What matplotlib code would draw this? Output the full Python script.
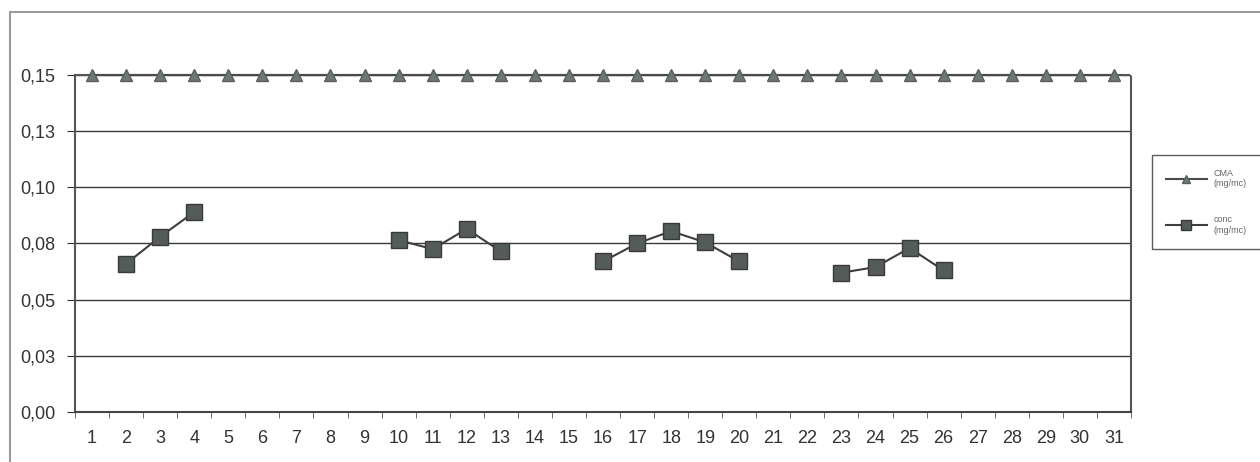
import numpy as np
import matplotlib.pyplot as plt
from matplotlib.patches import Rectangle

plt.rcParams["font.family"] = ["Liberation Sans", "DejaVu Sans"]

# Days of the month and measured values (mg/mc)
days = list(range(1, 32))
cma = [0.15] * 31
conc_days = [2, 3, 4, 10, 11, 12, 13, 16, 17, 18, 19, 20, 23, 24, 25, 26]
conc_vals = [0.066, 0.078, 0.089, 0.0765, 0.0725, 0.0815, 0.0715,
             0.067, 0.075, 0.0805, 0.0755, 0.067, 0.062, 0.0645, 0.073, 0.063]
y_ticks = [0.0, 0.025, 0.05, 0.075, 0.10, 0.125, 0.15]
y_labels = ["0,00", "0,03", "0,05", "0,08", "0,10", "0,13", "0,15"]

# series with gaps where no measurement exists
conc = np.full(31, np.nan)
for d, v in zip(conc_days, conc_vals):
    conc[d - 1] = v

fig = plt.figure(figsize=(12.6, 4.62), dpi=100)
ax = fig.add_axes([75 / 1260, 50 / 462, 1056 / 1260, 337 / 462])

# outer chart frame (runs off the right and bottom edges)
fig.patches.append(Rectangle((10 / 1260, -0.05), 1.1, 450 / 462 + 0.05,
                             transform=fig.transFigure, fill=False,
                             edgecolor="#9a9a9a", linewidth=1.5))

for y in y_ticks[1:]:
    ax.axhline(y, color="#3a3a3a", linewidth=1.0, zorder=1)

ax.plot(days, cma, color="#4a4a4a", linewidth=1.5, marker="^", markersize=9,
        markerfacecolor="#6f7773", markeredgecolor="#5a5f5c", label="CMA\n(mg/mc)",
        zorder=3, clip_on=False)
ax.plot(days, conc, color="#3e3e3e", linewidth=1.5, marker="s", markersize=12,
        markerfacecolor="#555b59", markeredgecolor="#3a3a3a", label="conc\n(mg/mc)",
        zorder=3, clip_on=False)

ax.set_xlim(0.5, 31.5)
ax.set_ylim(0, 0.15)
ax.set_yticks(y_ticks)
ax.set_yticklabels(y_labels)
ax.set_xticks(days)
ax.set_xticklabels([str(d) for d in days])
ax.set_xticks(np.arange(0.5, 32, 1), minor=True)
ax.tick_params(axis="x", which="major", length=0, pad=13, labelsize=13, colors="#333333")
ax.tick_params(axis="x", which="minor", length=4, direction="out", color="#555555")
ax.tick_params(axis="y", length=6, direction="out", labelsize=13, colors="#333333", pad=8)

for side in ["left", "right", "top"]:
    ax.spines[side].set_linestyle((0, (2, 1)))
    ax.spines[side].set_color("#555555")
    ax.spines[side].set_linewidth(1.5)
ax.spines["bottom"].set_color("#444444")
ax.spines["bottom"].set_linewidth(1.5)

leg = fig.legend(loc="upper left", bbox_to_anchor=(1147 / 1260, 1 - 150 / 462),
                 fontsize=6.5, frameon=True, fancybox=False, edgecolor="#333333",
                 handlelength=4.5, labelspacing=3.0, borderpad=1.6, markerscale=0.6)
for t in leg.get_texts():
    t.set_color("#666666")

fig.savefig("out.png", dpi=100)
